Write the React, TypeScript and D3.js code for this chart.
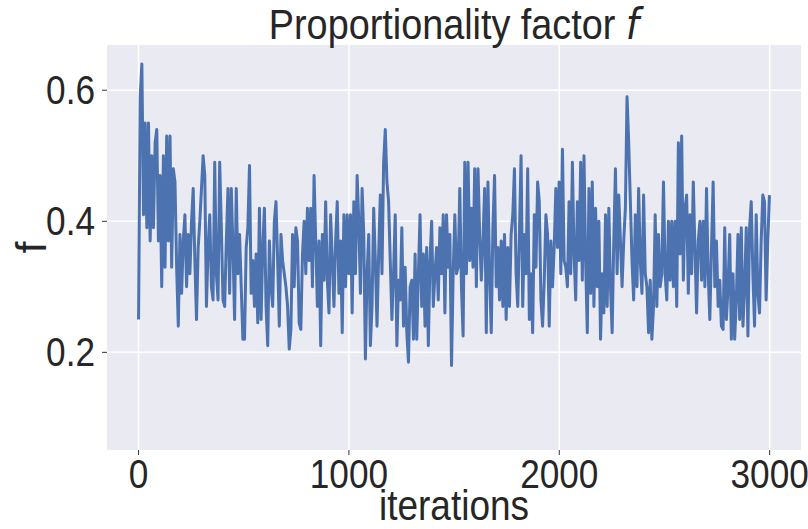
import React from 'react';
import * as d3 from 'd3';

const fSeg1 = [0.25,0.59,0.64,0.41,0.55,0.39,0.55,0.37,0.50,0.39,0.52,0.54,0.37,0.47,0.30,0.50,0.33,0.53,0.37,0.53,0.33,0.48,0.46,0.33,0.24,0.38,0.29,0.37,0.41,0.30,0.38,0.32,0.40,0.45,0.34,0.25,0.36,0.40,0.45,0.50,0.47,0.27,0.36,0.41,0.30,0.28,0.49,0.32,0.28,0.49,0.39,0.28,0.27,0.37,0.45,0.29,0.45,0.36,0.25,0.45,0.32,0.38,0.30,0.22];
const fSeg2 = [0.22,0.36,0.39,0.485,0.29,0.34,0.27,0.35,0.245,0.42,0.25,0.36,0.42,0.27,0.21,0.37,0.30,0.27,0.40,0.43,0.34,0.24,0.38,0.34,0.32,0.30,0.27,0.205,0.235,0.38,0.30,0.39,0.37,0.245,0.235,0.35,0.40,0.32,0.42,0.34,0.42,0.30,0.47,0.37,0.27,0.37,0.21,0.38,0.31,0.43,0.31,0.26,0.41,0.34,0.27,0.37,0.43,0.29,0.37,0.23,0.41,0.30,0.41,0.32];
const fSeg3 = [0.41,0.26,0.43,0.32,0.47,0.40,0.29,0.45,0.38,0.19,0.32,0.38,0.21,0.27,0.42,0.34,0.24,0.35,0.44,0.32,0.49,0.54,0.46,0.43,0.34,0.25,0.32,0.41,0.21,0.31,0.28,0.39,0.24,0.33,0.23,0.185,0.30,0.31,0.22,0.35,0.22,0.32,0.41,0.27,0.35,0.24,0.36,0.21,0.34,0.40,0.27,0.32,0.36,0.28,0.39,0.32,0.41,0.26,0.41,0.33,0.38,0.18,0.32,0.41];
const fSeg4 = [0.32,0.33,0.45,0.30,0.225,0.49,0.32,0.49,0.34,0.42,0.33,0.48,0.30,0.48,0.38,0.31,0.37,0.45,0.23,0.46,0.32,0.23,0.39,0.47,0.30,0.36,0.28,0.37,0.27,0.38,0.25,0.36,0.27,0.38,0.41,0.48,0.32,0.27,0.38,0.50,0.27,0.38,0.32,0.48,0.25,0.32,0.23,0.41,0.33,0.46,0.43,0.28,0.24,0.31,0.41,0.38,0.24,0.37,0.30,0.36,0.45,0.36,0.46,0.32];
const fSeg5 = [0.51,0.34,0.33,0.30,0.43,0.32,0.49,0.35,0.28,0.43,0.34,0.49,0.31,0.50,0.34,0.23,0.45,0.29,0.46,0.27,0.42,0.30,0.40,0.22,0.32,0.26,0.41,0.27,0.42,0.30,0.23,0.37,0.48,0.32,0.44,0.37,0.30,0.37,0.42,0.59,0.52,0.43,0.34,0.28,0.41,0.30,0.45,0.34,0.29,0.44,0.32,0.30,0.23,0.31,0.22,0.27,0.41,0.27,0.38,0.30,0.32,0.46,0.32,0.28];
const fSeg6 = [0.40,0.31,0.40,0.30,0.40,0.27,0.52,0.35,0.53,0.31,0.42,0.44,0.29,0.41,0.32,0.46,0.36,0.26,0.37,0.40,0.31,0.40,0.30,0.45,0.32,0.25,0.36,0.46,0.30,0.37,0.27,0.31,0.24,0.235,0.39,0.25,0.30,0.38,0.22,0.32,0.22,0.28,0.38,0.25,0.39,0.24,0.30,0.39,0.225,0.39,0.43,0.32,0.24,0.41,0.29,0.26,0.37,0.44,0.43,0.28,0.37,0.44];

const fValues = [...fSeg1, ...fSeg2, ...fSeg3, ...fSeg4, ...fSeg5, ...fSeg6];
const lastIteration = 2999;

const xTicks = [0, 1000, 2000, 3000];
const yTicks = [0.2, 0.4, 0.6];
const xDomain = [-150, 3149];
const yDomain = [0.051, 0.669];

const W = 808, H = 529;
const M = { left: 107, right: 7, top: 45, bottom: 79 };
const FONT = '"Liberation Sans", Arial, sans-serif';
const TEXT = '#262626';
const SX = 0.88;

const squeeze = (cx: number, s: number) => `translate(${cx},0) scale(${s},1) translate(${-cx},0)`;

export default function App() {
  const x = d3.scaleLinear().domain(xDomain).range([M.left, W - M.right]);
  const y = d3.scaleLinear().domain(yDomain).range([H - M.bottom, M.top]);
  const pts: [number, number][] = fValues.map((v, i) => [i * lastIteration / (fValues.length - 1), v]);
  const line = d3.line<[number, number]>().x(d => x(d[0])).y(d => y(d[1]));
  const pw = W - M.left - M.right, ph = H - M.top - M.bottom;
  const cx = M.left + pw / 2, cy = M.top + ph / 2;
  return (
    <svg width={W} height={H} style={{ position: 'fixed', left: 0, top: 0, background: '#fff' }}>
      <rect x={M.left} y={M.top} width={pw} height={ph} fill="#EAEAF2" />
      <defs>
        <clipPath id="plot"><rect x={M.left} y={M.top} width={pw} height={ph} /></clipPath>
      </defs>
      {xTicks.map(t => (
        <line key={'gx' + t} x1={x(t)} x2={x(t)} y1={M.top} y2={H - M.bottom} stroke="#fff" strokeWidth={1.5} />
      ))}
      {yTicks.map(t => (
        <line key={'gy' + t} x1={M.left} x2={W - M.right} y1={y(t)} y2={y(t)} stroke="#fff" strokeWidth={1.5} />
      ))}
      <path d={line(pts) || ''} fill="none" stroke="#4C72B0" strokeWidth={3} strokeLinejoin="round" clipPath="url(#plot)" />
      {xTicks.map(t => (
        <g key={'tx' + t}>
          <line x1={x(t)} x2={x(t)} y1={H - M.bottom} y2={H - M.bottom + 5} stroke="#333" strokeWidth={1} />
          <text x={x(t)} y={H - M.bottom + 38} textAnchor="middle" fontFamily={FONT} fontSize={40} fill={TEXT}
            transform={squeeze(x(t), SX)}>{d3.format('d')(t)}</text>
        </g>
      ))}
      {yTicks.map(t => (
        <g key={'ty' + t}>
          <line x1={M.left - 5} x2={M.left} y1={y(t)} y2={y(t)} stroke="#333" strokeWidth={1} />
          <text x={M.left - 12} y={y(t)} dy="0.35em" textAnchor="end" fontFamily={FONT} fontSize={40} fill={TEXT}
            transform={squeeze(M.left - 12, SX)}>{d3.format('.1f')(t)}</text>
        </g>
      ))}
      <text x={cx} y={H - 9} textAnchor="middle" fontFamily={FONT} fontSize={42} fill={TEXT}
        transform={squeeze(cx, SX)}>iterations</text>
      <text transform={`translate(46,${cy}) rotate(-90)`} textAnchor="middle" fontFamily={FONT} fontSize={42} fill={TEXT}>f</text>
      <text x={cx} y={39} textAnchor="middle" fontFamily={FONT} fontSize={42} fill={TEXT}
        transform={squeeze(cx, 0.9)}>
        Proportionality factor <tspan fontFamily='"DejaVu Sans", sans-serif' fontStyle="italic">f</tspan>
      </text>
    </svg>
  );
}
